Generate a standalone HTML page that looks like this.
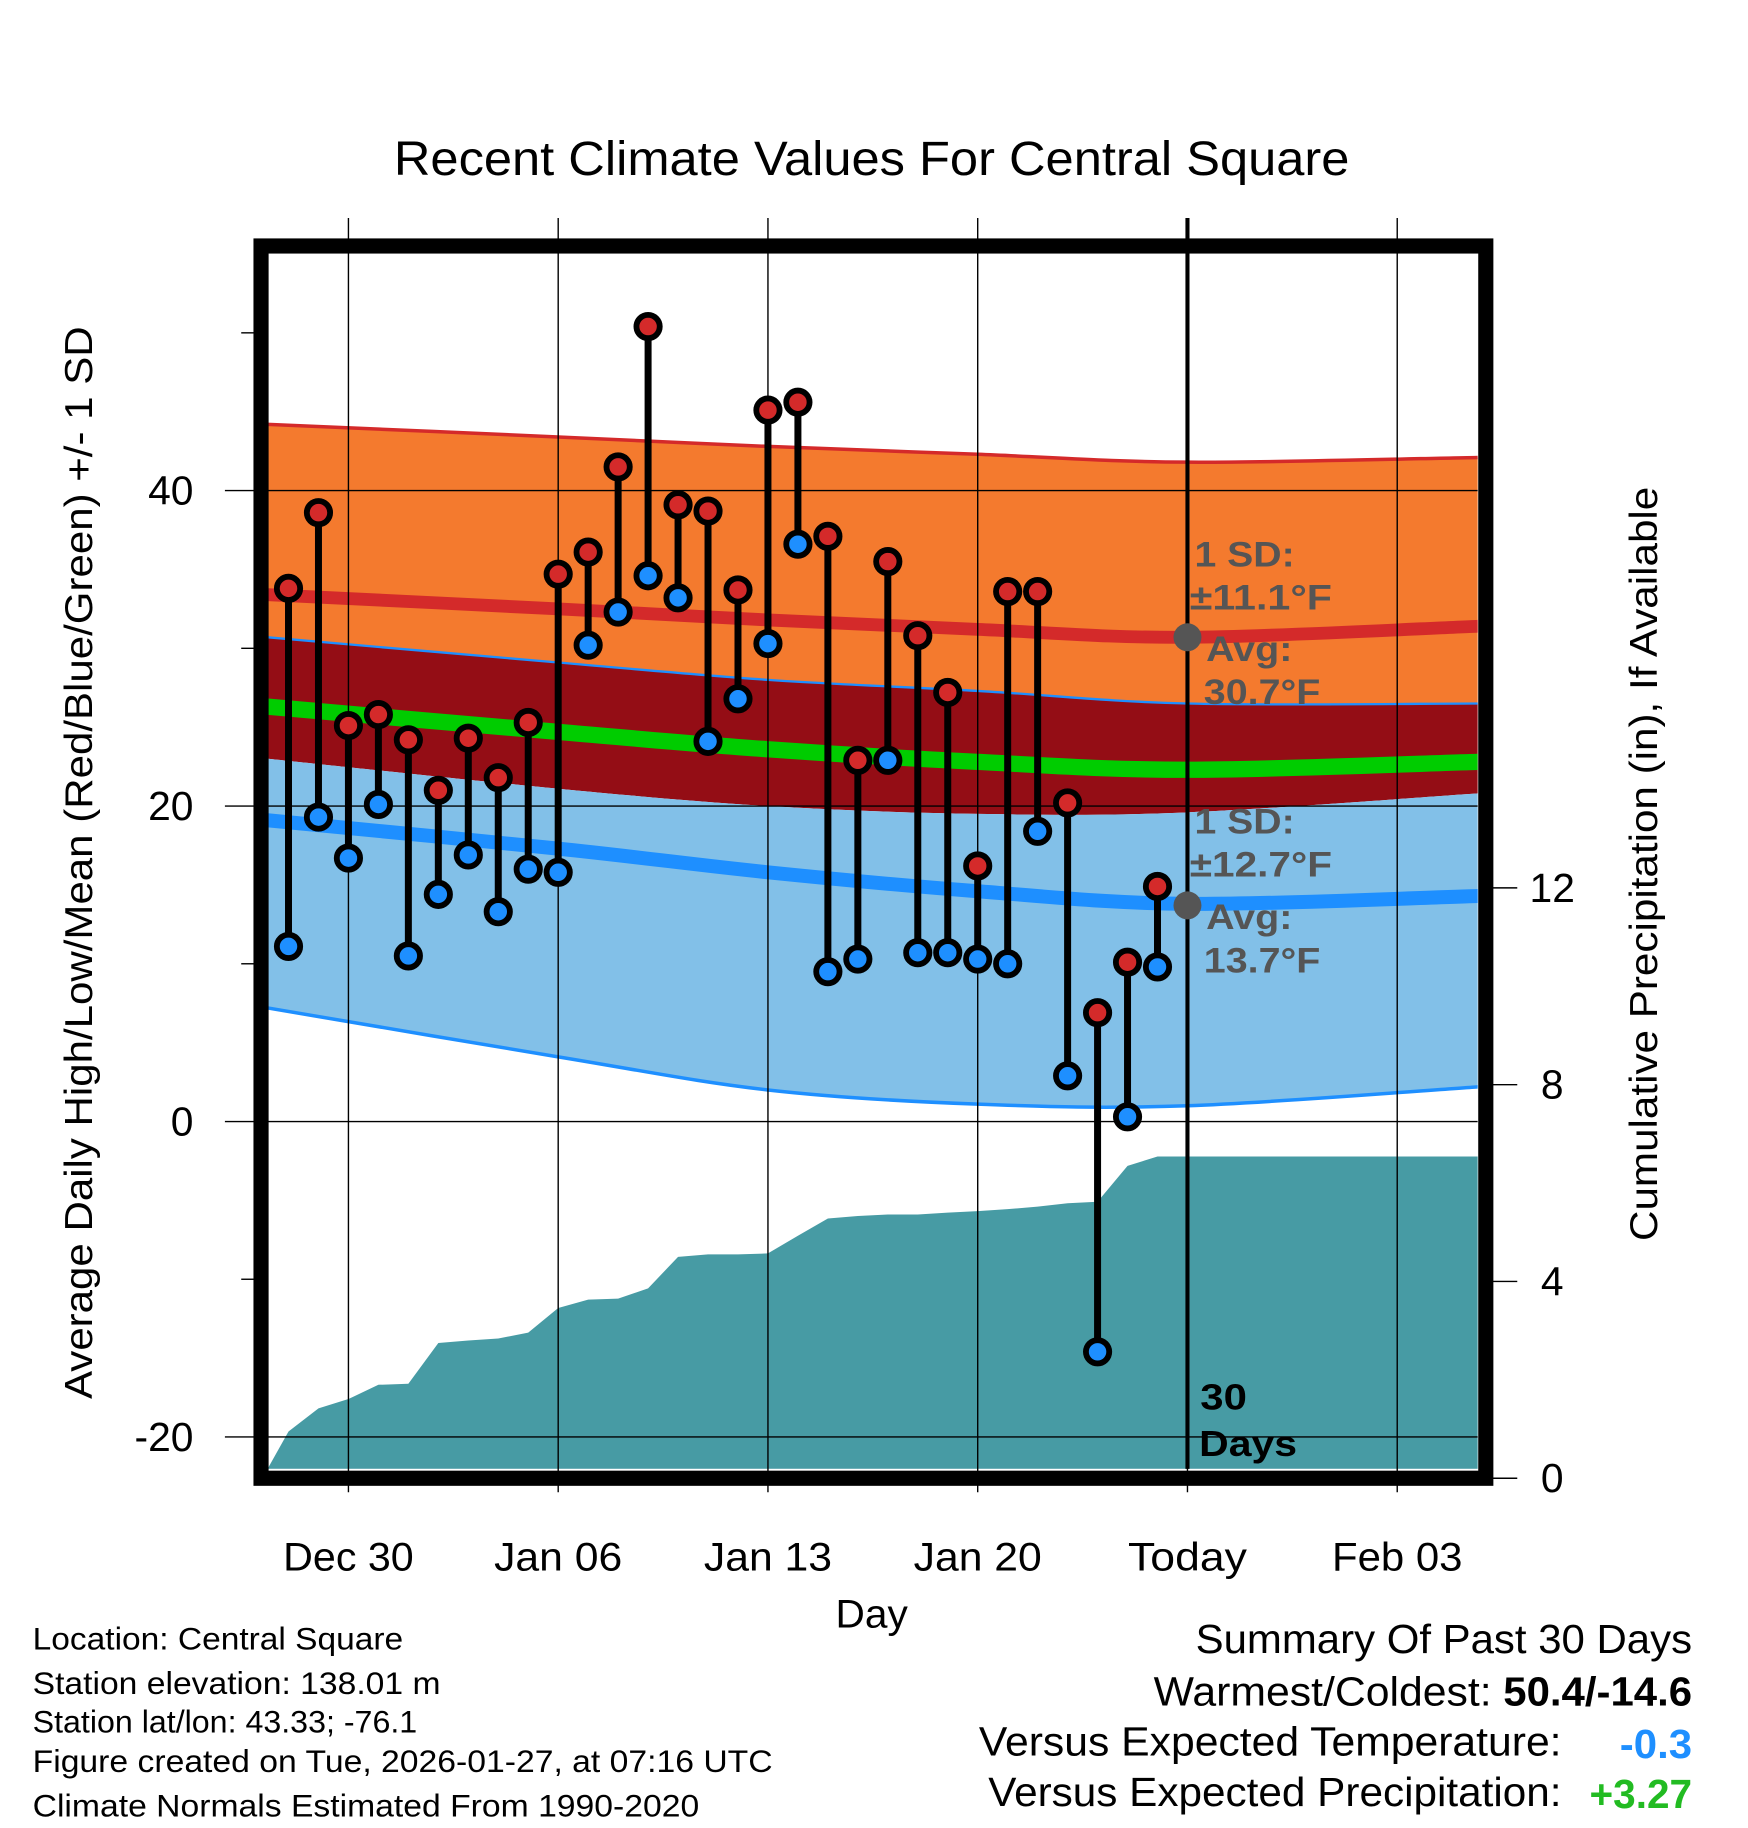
<!DOCTYPE html>
<html><head><meta charset="utf-8"><style>
html,body{margin:0;padding:0;background:#fff}
svg{display:block;font-family:"Liberation Sans",sans-serif}
</style></head><body>
<svg id="chart" width="1748" height="1828" viewBox="0 0 1500 1568" preserveAspectRatio="none" xmlns="http://www.w3.org/2000/svg"></svg>
<script>
// day offsets relative to Dec 30 (0)
const obsDays = [-2,-1,0,1,2,3,4,5,6,7,8,9,10,11,12,13,14,15,16,17,18,19,20,21,22,23,24,25,26,27];
const highs = [33.8,38.6,25.1,25.8,24.2,21.0,24.3,21.8,25.3,34.7,36.1,41.5,50.4,39.1,38.7,33.7,45.1,45.6,37.1,22.9,35.5,30.8,27.2,16.2,33.6,33.6,20.2,6.9,10.1,14.9];
const lows = [11.1,19.3,16.7,20.1,10.5,14.4,16.9,13.3,16.0,15.8,30.2,32.3,34.6,33.2,24.1,26.8,30.3,36.6,9.5,10.3,22.9,10.7,10.7,10.3,10.0,18.4,2.9,-14.6,0.3,9.8];
const normDays = [-2.7,7,14,21,28,37.7];
const highUpper = [44.2,43.4,42.8,42.3,41.8,42.1];
const highAvg = [33.4,32.5,31.8,31.2,30.7,31.4];
const highLower = [30.7,29.1,28.0,27.3,26.5,26.5];
const meanAvg = [26.3,24.7,23.6,22.8,22.3,22.8];
const lowUpper = [23.0,21.1,20.0,19.5,19.6,20.8];
const lowAvg = [19.1,17.3,15.8,14.6,13.8,14.3];
const lowLower = [7.2,4.1,2.0,1.1,1.0,2.2];
const precipDays = [-2.7,-2,-1,0,1,2,3,4,5,6,7,8,9,10,11,12,13,14,15,16,17,18,19,20,21,22,23,24,25,26,27,28,37.7];
const precipVals = [0,0.95,1.42,1.61,1.9,1.92,2.75,2.8,2.84,2.96,3.46,3.63,3.65,3.86,4.5,4.55,4.55,4.57,4.93,5.28,5.33,5.36,5.36,5.4,5.43,5.47,5.52,5.59,5.62,6.35,6.54,6.54,6.54];
const xTickDays = [0,7,14,21,28,35];
const xTickLabels = ["Dec 30","Jan 06","Jan 13","Jan 20","Today","Feb 03"];
const yTicks = [40,20,0,-20];
const yMinor = [50,30,10,-10];
const precipTicks = [0,4,8,12];

const svg=document.getElementById('chart');
const NS='http://www.w3.org/2000/svg';
const X0=230,X1=1268,Y0=217,Y1=1260;
const x=d=>299+d*25.714;
const y=v=>962-v*13.53;
const yp=v=>1268-v*42.2;
function el(t,a,p){const e=document.createElementNS(NS,t);for(const k in a)e.setAttribute(k,a[k]);(p||svg).appendChild(e);return e;}
function txt(s,a,len,p){const e=el('text',a,p);e.textContent=s;if(len){e.setAttribute('textLength',len);e.setAttribute('lengthAdjust','spacingAndGlyphs');}return e;}

let t=txt('Recent Climate Values For Central Square',{x:748,y:150,'font-size':41,'text-anchor':'middle'},820);


const defs=el('defs',{});
const cp=el('clipPath',{id:'clip'},defs);
el('rect',{x:X0,y:Y0,width:X1-X0,height:Y1-Y0},cp);
const bands=el('g',{'clip-path':'url(#clip)'});

function pts(arr){return normDays.map((dd,i)=>[x(dd),y(arr[i])]);}
function smooth(p,start){let d=start?('M'+p[0][0]+','+p[0][1]):('L'+p[0][0]+','+p[0][1]);
  for(let i=0;i<p.length-1;i++){const p0=p[i-1]||p[i],p1=p[i],p2=p[i+1],p3=p[i+2]||p2;
    const c1=[p1[0]+(p2[0]-p0[0])/6,p1[1]+(p2[1]-p0[1])/6],c2=[p2[0]-(p3[0]-p1[0])/6,p2[1]-(p3[1]-p1[1])/6];
    d+='C'+c1[0]+','+c1[1]+' '+c2[0]+','+c2[1]+' '+p2[0]+','+p2[1];}
  return d;}
function bandPath(top,bot){return smooth(pts(top),true)+smooth(pts(bot).reverse(),false)+'Z';}
function linePath(arr){return smooth(pts(arr),true);}
let b;
b=el('path',{d:bandPath(highUpper,highLower),fill:'#f47a2e'},bands);

b=el('path',{d:bandPath(highLower,lowUpper),fill:'#940d15'},bands);

b=el('path',{d:bandPath(lowUpper,lowLower),fill:'#82c0e8'},bands);

el('path',{d:linePath(highUpper),fill:'none',stroke:'#d42a2a','stroke-width':3},bands);
el('path',{d:linePath(highLower),fill:'none',stroke:'#1e8fff','stroke-width':2},bands);
el('path',{d:linePath(lowLower),fill:'none',stroke:'#1e8fff','stroke-width':3},bands);
b=el('path',{d:linePath(highAvg),fill:'none',stroke:'#d42a2a','stroke-width':11},bands);

b=el('path',{d:linePath(meanAvg),fill:'none',stroke:'#00cc00','stroke-width':14},bands);

b=el('path',{d:linePath(lowAvg),fill:'none',stroke:'#1e8fff','stroke-width':12},bands);


let pd='M'+x(precipDays[0])+','+Y1;
precipDays.forEach((dd,i)=>{pd+='L'+x(dd)+','+Math.min(yp(precipVals[i]),Y1);});
pd+='L'+x(precipDays[precipDays.length-1])+','+Y1+'Z';
b=el('path',{d:pd,fill:'#479ba4'},bands);


xTickDays.forEach((d,i)=>{
  const g=el('line',{x1:x(d),x2:x(d),y1:187,y2:1280,stroke:'#000','stroke-width':1.2});
  
  const l=txt(xTickLabels[i],{x:x(d),y:1347,'font-size':34,'text-anchor':'middle'},[112,110,110,110,102,112][i]);
  
});
yTicks.forEach(v=>{
  const g=el('line',{x1:193,x2:X1,y1:y(v),y2:y(v),stroke:'#000','stroke-width':1.2});
  
  const l=txt(String(v),{x:166,y:y(v)+12,'font-size':35,'text-anchor':'end'});
  
});
yMinor.forEach(v=>{el('line',{x1:207,x2:218,y1:y(v),y2:y(v),stroke:'#000','stroke-width':1.2});});
precipTicks.forEach(v=>{
  el('line',{x1:1281,x2:1302,y1:yp(v),y2:yp(v),stroke:'#000','stroke-width':1.2});
  const l=txt(String(v),{x:1332,y:yp(v)+12,'font-size':35,'text-anchor':'middle'});
  
});

el('line',{x1:x(28),x2:x(28),y1:187,y2:Y1,stroke:'#000','stroke-width':3.5});

obsDays.forEach((d,i)=>{
  const st=el('line',{x1:x(d),x2:x(d),y1:y(highs[i]),y2:y(lows[i]),stroke:'#000','stroke-width':6});
  
});
obsDays.forEach((d,i)=>{
  const h=el('circle',{cx:x(d),cy:y(highs[i]),r:10,fill:'#d42a2a',stroke:'#000','stroke-width':5});
  
  const l=el('circle',{cx:x(d),cy:y(lows[i]),r:10,fill:'#1e8fff',stroke:'#000','stroke-width':5});
  
});

const ann=[['1 SD:',1025,486,86],['±11.1°F',1021,523,122],['Avg:',1035,567,74],['30.7°F',1033,604,100],['1 SD:',1025,715,86],['±12.7°F',1021,752,122],['Avg:',1035,797,74],['13.7°F',1033,834,100]];
ann.forEach(a=>{const e=txt(a[0],{x:a[1],y:a[2],'font-size':30,'font-weight':'bold',fill:'#555'},a[3]);});
el('circle',{cx:x(28),cy:y(30.7),r:12,fill:'#555'});
el('circle',{cx:x(28),cy:y(13.7),r:12,fill:'#555'});
txt('30',{x:1030,y:1209,'font-size':31,'font-weight':'bold'},40);
txt('Days',{x:1029,y:1249,'font-size':31,'font-weight':'bold'},84);

b=el('rect',{x:224,y:211,width:1051,height:1057,fill:'none',stroke:'#000','stroke-width':13});


t=txt('Average Daily High/Low/Mean (Red/Blue/Green) +/- 1 SD',{x:0,y:0,'font-size':33,'text-anchor':'middle',transform:'translate(79,740) rotate(-90)'},920);

t=txt('Cumulative Precipitation (in), If Available',{x:0,y:0,'font-size':33,'text-anchor':'middle',transform:'translate(1422,741) rotate(-90)'},647);

t=txt('Day',{x:748,y:1396,'font-size':34,'text-anchor':'middle'},62);


['Location: Central Square','Station elevation: 138.01 m','Station lat/lon: 43.33; -76.1','Figure created on Tue, 2026-01-27, at 07:16 UTC','Climate Normals Estimated From 1990-2020'].forEach((s,i)=>{
  const e=txt(s,{x:28,y:[1415,1453,1486,1520,1558][i],'font-size':27},[318,350,330,635,572][i]);
  
});
t=txt('Summary Of Past 30 Days',{x:1452,y:1418,'font-size':35,'text-anchor':'end'},426);

t=txt('Warmest/Coldest:',{x:1280,y:1463,'font-size':35,'text-anchor':'end'},290);

t=txt('50.4/-14.6',{x:1452,y:1463,'font-size':35,'font-weight':'bold','text-anchor':'end'},162);

txt('Versus Expected Temperature:',{x:1340,y:1506,'font-size':35,'text-anchor':'end'},500);
t=txt('-0.3',{x:1452,y:1508,'font-size':35,'font-weight':'bold','text-anchor':'end',fill:'#1e8fff'},62);

txt('Versus Expected Precipitation:',{x:1340,y:1549,'font-size':35,'text-anchor':'end'},492);
t=txt('+3.27',{x:1452,y:1551,'font-size':35,'font-weight':'bold','text-anchor':'end',fill:'#22bb22'},88);

</script>
</body></html>
